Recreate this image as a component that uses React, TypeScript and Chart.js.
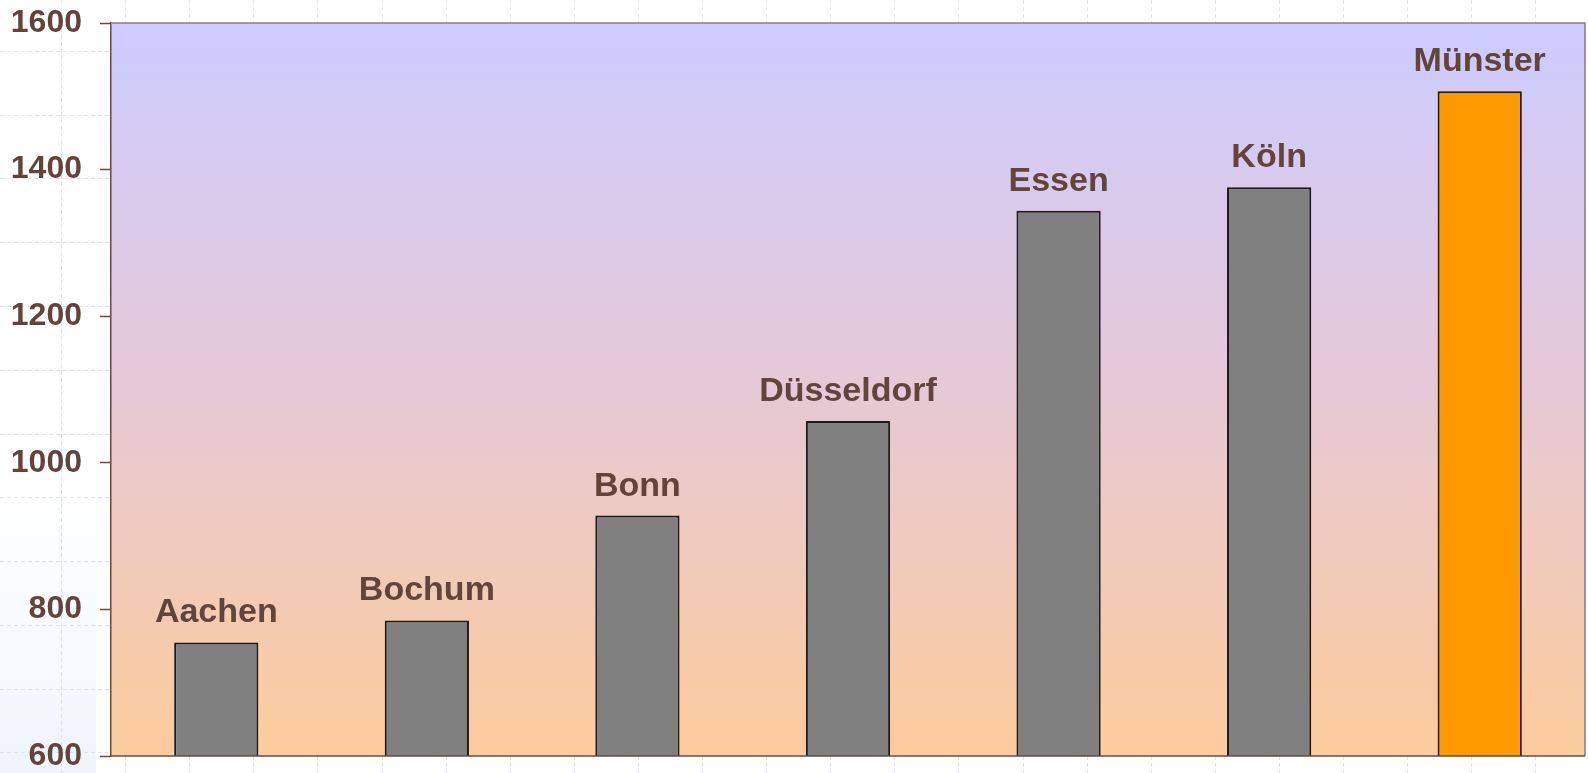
import React, { useEffect, useRef } from "react";
import Chart from "chart.js/auto";

const categories = ["Aachen", "Bochum", "Bonn", "Düsseldorf", "Essen", "Köln", "Münster"];
const values = [755, 785, 928, 1057, 1344, 1376, 1507];
const barColors = ["#808080", "#808080", "#808080", "#808080", "#808080", "#808080", "#ff9900"];
const yMin = 600;
const yMax = 1600;
const yStep = 200;

const BROWN = "#62443a";
const FONT = '"Liberation Sans", Arial, sans-serif';

const backgroundPlugin = {
  id: "bgPlugin",
  beforeDraw(chart: any) {
    const { ctx, width, height, chartArea } = chart;
    ctx.save();
    ctx.fillStyle = "#ffffff";
    ctx.fillRect(0, 0, width, height);
    // faint left-bottom shading
    const sg = ctx.createLinearGradient(0, 480, 0, height);
    sg.addColorStop(0, "rgba(240,245,252,0)");
    sg.addColorStop(1, "rgba(232,240,250,0.7)");
    ctx.fillStyle = sg;
    ctx.fillRect(0, 480, 96, height - 480);
    // dashed page grid
    ctx.strokeStyle = "#dce2f8";
    ctx.lineWidth = 1;
    ctx.setLineDash([4, 3]);
    for (let x = 61; x < width; x += 64.1) {
      ctx.beginPath();
      ctx.moveTo(Math.round(x) + 0.5, 0);
      ctx.lineTo(Math.round(x) + 0.5, height);
      ctx.stroke();
    }
    for (let y = 50.7; y < height; y += 63.8) {
      ctx.beginPath();
      ctx.moveTo(0, Math.round(y) + 0.5);
      ctx.lineTo(width, Math.round(y) + 0.5);
      ctx.stroke();
    }
    ctx.setLineDash([]);
    // plot area gradient
    const { left, top, right, bottom } = chartArea;
    const g = ctx.createLinearGradient(0, top, 0, bottom);
    g.addColorStop(0, "#ccccff");
    g.addColorStop(0.5, "#e6c9d6");
    g.addColorStop(1, "#fccc9c");
    ctx.fillStyle = g;
    ctx.fillRect(left, top, right - left, bottom - top);
    ctx.restore();
  },
  afterDraw(chart: any) {
    const { ctx, chartArea } = chart;
    const { left, top, right, bottom } = chartArea;
    ctx.save();
    ctx.lineWidth = 1.5;
    ctx.strokeStyle = "#8a7a8e";
    ctx.beginPath();
    ctx.moveTo(left, top);
    ctx.lineTo(right, top);
    ctx.lineTo(right, bottom);
    ctx.stroke();
    ctx.strokeStyle = "#6b4a40";
    ctx.beginPath();
    ctx.moveTo(left, bottom);
    ctx.lineTo(right, bottom);
    ctx.stroke();
    ctx.restore();
  },
};

const labelPlugin = {
  id: "barLabels",
  afterDatasetsDraw(chart: any) {
    const { ctx } = chart;
    const meta = chart.getDatasetMeta(0);
    ctx.save();
    ctx.fillStyle = BROWN;
    ctx.font = `bold 34px ${FONT}`;
    ctx.textAlign = "center";
    ctx.textBaseline = "alphabetic";
    meta.data.forEach((bar: any, i: number) => {
      ctx.fillText(categories[i], bar.x, bar.y - 20);
    });
    ctx.restore();
  },
};

export default function App() {
  const canvasRef = useRef<HTMLCanvasElement | null>(null);

  useEffect(() => {
    if (!canvasRef.current) return;
    const chart = new Chart(canvasRef.current, {
      type: "bar",
      data: {
        labels: categories,
        datasets: [
          {
            data: values,
            backgroundColor: barColors,
            borderColor: "#1a1a1a",
            borderWidth: 2,
            categoryPercentage: 0.8,
            barPercentage: 0.5,
          },
        ],
      },
      options: {
        animation: false,
        responsive: true,
        maintainAspectRatio: false,
        layout: { padding: { top: 23, right: 3, bottom: 17, left: 0 } },
        plugins: {
          legend: { display: false },
          tooltip: { enabled: false },
        },
        scales: {
          x: { display: false },
          y: {
            min: yMin,
            max: yMax,
            afterFit: (s: any) => {
              s.width = 111;
              s.paddingTop = 0;
              s.paddingBottom = 0;
            },
            ticks: {
              stepSize: yStep,
              color: BROWN,
              padding: 18,
              font: { family: FONT, size: 32, weight: "bold" },
              callback: (v: any) => String(v),
            },
            grid: {
              drawOnChartArea: false,
              drawTicks: true,
              tickLength: 11,
              tickColor: "#6b4a40",
              tickWidth: 1.5,
            },
            border: { display: true, color: "#6b4a40", width: 1.5 },
          },
        },
      },
      plugins: [backgroundPlugin, labelPlugin],
    });
    return () => chart.destroy();
  }, []);

  return (
    <div style={{ position: "absolute", left: 0, top: 0, width: 1588, height: 773 }}>
      <canvas ref={canvasRef} />
    </div>
  );
}
